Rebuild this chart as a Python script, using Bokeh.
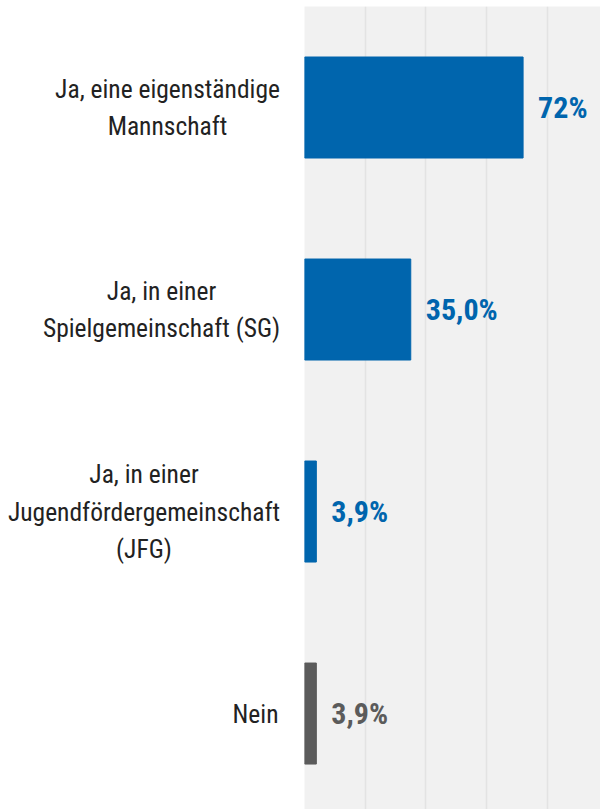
from bokeh.plotting import figure
from bokeh.layouts import row
from bokeh.models import ColumnDataSource, Range1d, FixedTicker
from bokeh.core.properties import value
from bokeh.embed import file_html
from bokeh.resources import INLINE

# ---- data ----
keys = ["Mannschaft", "SG", "JFG", "Nein"]
category_labels = [
    "Ja, eine eigenständige\nMannschaft",
    "Ja, in einer\nSpielgemeinschaft (SG)",
    "Ja, in einer\nJugendfördergemeinschaft\n(JFG)",
    "Nein",
]
values = [72.0, 35.0, 3.9, 3.9]
value_labels = ["72%", "35,0%", "3,9%", "3,9%"]
bar_colors = ["#0065ad", "#0065ad", "#0065ad", "#5b5b5b"]
grid_ticks = [0, 20, 40, 60, 80]

FONT = "Roboto Condensed"

# row positions (top to bottom), derived from the category order
ypos = [len(keys) - 1 - i for i in range(len(keys))]
yr = Range1d(-0.475, len(keys) - 0.5)

src = ColumnDataSource(dict(cat=keys, y=ypos, val=values, lab=value_labels, col=bar_colors))

# ---- left: category labels (lines centred, block right-aligned next to the plot) ----
label_centers = [167, 161, 143.5, 255]
lsrc = ColumnDataSource(dict(y=ypos, txt=category_labels, cx=label_centers))
left = figure(width=304, height=809, y_range=yr, x_range=Range1d(0, 304),
              output_backend="svg", toolbar_location=None,
              min_border_left=0, min_border_right=0, min_border_top=6, min_border_bottom=0)
left.axis.visible = False
left.grid.visible = False
left.outline_line_color = None
left.background_fill_color = "white"
left.border_fill_color = "white"
left.text(x="cx", y="y", text="txt", text_align="center", text_baseline="middle",
          text_font=value(FONT), text_font_size="25.5px", text_color="#222222",
          text_line_height=1.24, source=lsrc)

# ---- right: bars ----
p = figure(width=296, height=809, y_range=yr, x_range=Range1d(0, 97.5),
           output_backend="svg", toolbar_location=None,
           min_border_left=0, min_border_right=0, min_border_top=6, min_border_bottom=0)
p.xaxis.visible = False
p.yaxis.visible = False
p.ygrid.visible = False
p.xgrid.ticker = FixedTicker(ticks=grid_ticks)
p.xgrid.grid_line_color = "#e3e3e3"
p.xgrid.grid_line_width = 1.5
p.outline_line_color = None
p.background_fill_color = "#f1f1f1"
p.border_fill_color = "white"

p.hbar(y="y", left=0, right="val", height=0.5, color="col", source=src)
p.text(x="val", y="y", text="lab", x_offset=15, text_baseline="middle", text_align="left",
       text_font=value(FONT), text_font_size="30px", text_font_style="bold",
       text_color="col", source=src)

layout = row(left, p, spacing=0)
open("out.html", "w").write(file_html(layout, INLINE))
